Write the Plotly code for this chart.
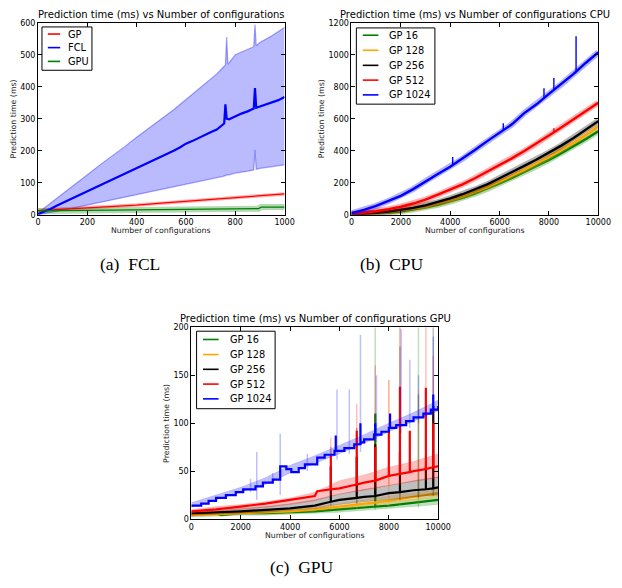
import plotly.graph_objects as go

# ---------------- Panel (a) FCL ----------------
fcl_x = [0,25,50,75,100,125,150,175,200,225,250,275,300,325,350,375,400,425,450,475,500,525,550,575,600,625,650,675,700,725,750,755,760,765,775,800,825,850,875,880,885,900,925,950,975,1000]
fcl_mean = [2,9,18,28,37,45,55,64,73,82,91,100,110,118,128,136,145,153,163,172,182,190,200,210,222,230,240,248,258,266,280,285,345,300,298,308,316,323,332,396,334,338,345,352,358,368]
fcl_band_x = [0,50,100,150,200,250,300,350,400,450,500,550,600,650,700,725,750,760,765,770,800,850,875,880,885,900,950,1000]
fcl_upper = [6,35,66,96,125,155,183,212,242,270,298,328,360,392,422,440,460,468,555,470,500,515,525,594,528,538,560,585]
fcl_lower = [0,6,14,22,30,38,46,54,62,70,78,86,95,104,112,116,120,122,125,124,130,136,140,202,142,145,150,156]
gp_a_x = [0,100,200,300,400,500,600,700,800,900,1000]
gp_a = [13,17,22,26,30,36,42,48,54,60,65]
gpu_a_x = [0,100,200,300,400,500,600,700,800,895,905,1000]
gpu_a = [12,13,14,15,16,17,18,18,19,19,24,24]
legend_a = ['GP', 'FCL', 'GPU']

# ---------------- Panel (b) CPU ----------------
cpu_x = [0,500,1000,1500,2000,2500,3000,3500,4000,4500,5000,5500,6000,6500,7000,7500,8000,8500,9000,9500,10000]
cpu_gp16 = [0,3,7,13,21,32,45,62,82,105,132,161,195,230,266,303,343,385,428,474,522]
cpu_gp128 = [1,4,9,16,25,37,50,68,90,114,142,172,208,243,280,320,362,405,450,500,552]
cpu_gp256 = [2,6,12,20,30,43,58,78,102,128,158,190,228,265,305,345,388,432,480,530,585]
cpu_gp512 = [5,12,22,35,50,70,95,125,155,190,228,268,310,352,398,445,495,545,595,648,700]
cpu_gp1024 = [10,30,55,85,118,160,210,255,300,350,405,460,515,565,635,690,755,815,880,950,1015]
# spikes on the CPU curves: x, low, high
cpu_sp512_x = [8200]
cpu_sp512_lo = [512]
cpu_sp512_hi = [540]
cpu_sp1024_x = [4100, 6150, 7800, 8200, 9100]
cpu_sp1024_lo = [310, 528, 730, 778, 890]
cpu_sp1024_hi = [360, 572, 790, 855, 1115]
legend_b = ['GP 16', 'GP 128', 'GP 256', 'GP 512', 'GP 1024']

# ---------------- Panel (c) GPU ----------------
g16_x = [0,1000,1200,1500,2000,3000,4000,5000,6000,7000,7450,7450,7450,8000,9000,10000]
g16 = [4,6,4,5,6,6,7,8,10,12,13,110,13,14,17,20]
g128_x = [0,1000,2000,3000,4000,5000,6000,7000,8000,9000,10000]
g128 = [4,5,6,7,8,10,13,16,19,23,27]
g256_x = [0,2000,4000,5000,5650,5650,5650,6000,6700,6700,6700,7000,7450,7450,7450,8000,8450,8450,8450,9000,9500,9500,9500,9800,9800,9800,10000]
g256 = [6,8,11,14,18,55,18,20,22,65,22,23,24,78,24,27,28,70,28,30,31,55,31,32,118,32,33]
g512_x = [0,1000,2000,3000,4000,5000,5100,5650,5650,5650,6000,6700,6700,6700,7000,7450,7450,7450,8000,8000,8000,8450,8450,8450,8850,8850,8850,9000,9500,9500,9500,9800,9800,9800,10000]
g512 = [8,10,13,16,20,24,29,31,66,31,32,36,92,36,38,40,75,40,45,92,45,47,138,47,49,92,49,50,52,137,52,54,100,54,55]
g1024_x = [0,400,700,1000,1400,1800,2100,2600,2900,3300,3600,3850,4050,4350,4600,5100,5400,5800,5850,5850,5850,6200,6600,6850,6850,6850,7000,7400,7450,7450,7450,7700,8000,8050,8050,8050,8300,8700,9000,9400,9700,9800,9800,9800,10000]
g1024 = [14,16,19,22,25,28,31,34,38,41,55,52,49,53,57,64,67,71,71,87,71,74,78,80,100,80,83,88,88,100,88,91,95,95,110,95,98,102,106,110,114,114,130,114,118]

band_gx = [0,1000,2000,3000,4000,5000,6000,7000,8000,9000,10000]
g16_lo = [2,3,4,4,5,6,7,9,11,13,15]
g16_hi = [6,7,8,8,9,10,12,15,18,21,25]
g128_lo = [3,4,5,6,7,8,11,13,16,19,22]
g128_hi = [6,7,8,9,10,13,16,20,24,27,31]
g256_lo = [4,5,6,7,9,11,15,18,20,23,25]
g256_hi = [8,9,11,13,16,20,26,31,35,40,44]
g512_lo = [6,8,10,12,15,19,26,30,35,39,43]
g512_hi = [10,13,15,18,22,28,40,46,54,60,68]
g1024_lo = [12,20,28,36,48,58,68,79,91,102,113]
g1024_hi = [17,25,33,43,56,66,77,88,100,111,124]

# light (band) spikes: x, low, high
sp1024_x = [2400,2650,3300,3600,4700,5900,6400,6850,7500,8500,8850,9200,9800]
sp1024_lo = [28,20,38,25,50,62,68,70,80,90,95,100,105]
sp1024_hi = [42,70,48,89,68,135,135,192,150,198,166,150,190]
sp512_x = [5650,6700,7450,8000,8450,9500,9800]
sp512_lo = [25,28,30,35,35,40,42]
sp512_hi = [85,120,160,145,200,200,170]
sp256_x = [5650,6700,8450,9200,9800]
sp256_lo = [14,16,20,22,24]
sp256_hi = [75,95,180,130,200]
sp128_x = [6700,8000,8450,9200]
sp128_lo = [10,12,14,16]
sp128_hi = [95,145,200,135]
sp16_x = [7450,9200]
sp16_lo = [10,12]
sp16_hi = [200,200]
legend_c = ['GP 16', 'GP 128', 'GP 256', 'GP 512', 'GP 1024']

W, H = 622, 588
def px(x): return x / W
def py(y): return 1 - y / H

def segs(xs, lo, hi):
    X, Y = [], []
    for x, a, b in zip(xs, lo, hi):
        X += [x, x, None]
        Y += [a, b, None]
    return X, Y

GREEN, ORANGE, BLACK, RED, BLUE = (0, 128, 0), (255, 165, 0), (0, 0, 0), (255, 0, 0), (0, 0, 255)
def rgb(c): return 'rgb(%d,%d,%d)' % c
def rgba(c, a): return 'rgba(%d,%d,%d,%s)' % (c + (a,))

fig = go.Figure()

# ---- panel a traces
fig.add_trace(go.Scatter(x=fcl_band_x, y=fcl_lower, mode='lines', line=dict(color=rgba(BLUE, 0.35), width=1.2),
                         showlegend=False, hoverinfo='skip', xaxis='x', yaxis='y'))
fig.add_trace(go.Scatter(x=fcl_band_x, y=fcl_upper, mode='lines', line=dict(color=rgba(BLUE, 0.35), width=1.2),
                         fill='tonexty', fillcolor=rgba(BLUE, 0.27), showlegend=False, hoverinfo='skip', xaxis='x', yaxis='y'))
fig.add_trace(go.Scatter(x=gp_a_x, y=gp_a, mode='lines', line=dict(color=rgba(RED, 0.3), width=3.5),
                         showlegend=False, hoverinfo='skip', xaxis='x', yaxis='y'))
fig.add_trace(go.Scatter(x=gpu_a_x, y=gpu_a, mode='lines', line=dict(color=rgba(GREEN, 0.3), width=6),
                         showlegend=False, hoverinfo='skip', xaxis='x', yaxis='y'))
fig.add_trace(go.Scatter(x=gp_a_x, y=gp_a, mode='lines', name=legend_a[0], line=dict(color=rgb(RED), width=1.3),
                         showlegend=False, xaxis='x', yaxis='y'))
fig.add_trace(go.Scatter(x=fcl_x, y=fcl_mean, mode='lines', name=legend_a[1], line=dict(color=rgb(BLUE), width=2.2),
                         showlegend=False, xaxis='x', yaxis='y'))
fig.add_trace(go.Scatter(x=gpu_a_x, y=gpu_a, mode='lines', name=legend_a[2], line=dict(color=rgb(GREEN), width=1.3),
                         showlegend=False, xaxis='x', yaxis='y'))

# ---- panel b traces
cpu_series = [
    (legend_b[0], cpu_gp16, GREEN, [], [], []),
    (legend_b[1], cpu_gp128, ORANGE, [], [], []),
    (legend_b[2], cpu_gp256, BLACK, [], [], []),
    (legend_b[3], cpu_gp512, RED, cpu_sp512_x, cpu_sp512_lo, cpu_sp512_hi),
    (legend_b[4], cpu_gp1024, BLUE, cpu_sp1024_x, cpu_sp1024_lo, cpu_sp1024_hi),
]
for name, ys, c, sx, slo, shi in cpu_series:
    fig.add_trace(go.Scatter(x=cpu_x, y=ys, mode='lines', line=dict(color=rgba(c, 0.3), width=6),
                             showlegend=False, hoverinfo='skip', xaxis='x2', yaxis='y2'))
    fig.add_trace(go.Scatter(x=cpu_x, y=ys, mode='lines', name=name, line=dict(color=rgb(c), width=2.4),
                             showlegend=False, xaxis='x2', yaxis='y2'))
    if sx:
        SX, SY = segs(sx, slo, shi)
        fig.add_trace(go.Scatter(x=SX, y=SY, mode='lines', line=dict(color=rgb(c), width=1.4),
                                 showlegend=False, hoverinfo='skip', xaxis='x2', yaxis='y2'))

# ---- panel c traces
gpu_series = [
    (legend_c[0], g16_x, g16, g16_lo, g16_hi, sp16_x, sp16_lo, sp16_hi, GREEN, 'linear'),
    (legend_c[1], g128_x, g128, g128_lo, g128_hi, sp128_x, sp128_lo, sp128_hi, ORANGE, 'linear'),
    (legend_c[2], g256_x, g256, g256_lo, g256_hi, sp256_x, sp256_lo, sp256_hi, BLACK, 'linear'),
    (legend_c[3], g512_x, g512, g512_lo, g512_hi, sp512_x, sp512_lo, sp512_hi, RED, 'linear'),
    (legend_c[4], g1024_x, g1024, g1024_lo, g1024_hi, sp1024_x, sp1024_lo, sp1024_hi, BLUE, 'hv'),
]
for name, xs, ys, lo, hi, sx, slo, shi, c, shape in gpu_series:
    light = rgba(c, 0.25)
    fig.add_trace(go.Scatter(x=band_gx, y=lo, mode='lines', line=dict(color=light, width=0.5),
                             showlegend=False, hoverinfo='skip', xaxis='x3', yaxis='y3'))
    fig.add_trace(go.Scatter(x=band_gx, y=hi, mode='lines', line=dict(color=light, width=0.5),
                             fill='tonexty', fillcolor=light, showlegend=False, hoverinfo='skip', xaxis='x3', yaxis='y3'))
    SX, SY = segs(sx, slo, shi)
    fig.add_trace(go.Scatter(x=SX, y=SY, mode='lines', line=dict(color=light, width=1.5),
                             showlegend=False, hoverinfo='skip', xaxis='x3', yaxis='y3'))
    fig.add_trace(go.Scatter(x=xs, y=ys, mode='lines', name=name, line=dict(color=rgb(c), width=2.2, shape=shape),
                             showlegend=False, xaxis='x3', yaxis='y3'))

tickfont = dict(family='DejaVu Sans', size=8, color='black')
def axis(domain, rng, dtick, anchor):
    return dict(domain=domain, range=rng, dtick=dtick, showgrid=False, zeroline=False, showline=True,
                linecolor='black', linewidth=1, mirror='ticks', ticks='inside', ticklen=4, tickcolor='black',
                tickfont=tickfont, anchor=anchor, fixedrange=True, tickformat='d')

xa = [px(36), px(289)]
xb = [px(357.7), px(611)]
xc = [px(193.3), px(446.7)]
yab = [py(214), py(19)]
yc = [py(523), py(328.3)]

ann = []
shapes = []
titlefont = dict(family='DejaVu Sans', size=10, color='black')
labfont = dict(family='DejaVu Sans', size=7.8, color='#222')
capfont = dict(family='Liberation Serif', size=17.5, color='black')
legfont = dict(family='DejaVu Sans', size=9.8, color='black')

def A(text, x, y, font, angle=0, xanchor='center'):
    ann.append(dict(text=text, x=px(x), y=py(y), xref='paper', yref='paper', showarrow=False,
                    xanchor=xanchor, yanchor='middle', font=font, textangle=angle))

# hand-drawn legend boxes (matplotlib-like compact legends)
def legend_box(x0, y0, x1, y1, names, colors, ys, lx0, lx1, tx, lw=1.6):
    shapes.append(dict(type='rect', xref='paper', yref='paper', x0=px(x0), x1=px(x1), y0=py(y1), y1=py(y0),
                       line=dict(color='black', width=1), fillcolor='white', layer='above'))
    for n, c, yy in zip(names, colors, ys):
        shapes.append(dict(type='line', xref='paper', yref='paper', x0=px(lx0), x1=px(lx1), y0=py(yy), y1=py(yy),
                           line=dict(color=rgb(c), width=lw), layer='above'))
        A(n, tx, yy, legfont, xanchor='left')

legend_box(40, 23.3, 91.3, 67.3, legend_a, [RED, BLUE, GREEN], [30.5, 44.3, 58.3], 46, 58.7, 65)
legend_box(362.7, 24.3, 443.3, 101.7, legend_b, [GREEN, ORANGE, BLACK, RED, BLUE],
           [31.7, 47, 62.3, 77.3, 92.3], 369.3, 385.3, 394.5)
legend_box(198.7, 332.3, 279.3, 411, legend_c, [GREEN, ORANGE, BLACK, RED, BLUE],
           [340.7, 356, 371, 386, 401], 205.3, 221.3, 230.5)

A('Prediction time (ms) vs Number of configurations', 162.5, 11, titlefont)
A('Prediction time (ms) vs Number of configurations CPU', 484, 11, titlefont)
A('Prediction time (ms) vs Number of configurations GPU', 321, 319, titlefont)
A('Number of configurations', 162.5, 230, labfont)
A('Number of configurations', 484, 230, labfont)
A('Number of configurations', 320, 540, labfont)
A('Prediction time (ms)', 11, 116.5, labfont, -90)
A('Prediction time (ms)', 327, 116.5, labfont, -90)
A('Prediction time (ms)', 167, 425.7, labfont, -90)
A('(a)\u00a0 FCL', 130, 264, capfont)
A('(b)\u00a0 CPU', 399, 264, capfont)
A('(c)\u00a0 GPU', 307, 572, capfont)

fig.update_layout(
    width=W, height=H, autosize=False,
    margin=dict(l=0, r=0, t=0, b=0),
    paper_bgcolor='white', plot_bgcolor='white',
    xaxis=axis(xa, [0, 1000], 200, 'y'),
    yaxis=axis(yab, [0, 600], 100, 'x'),
    xaxis2=axis(xb, [0, 10000], 2000, 'y2'),
    yaxis2=axis(yab, [0, 1200], 200, 'x2'),
    xaxis3=axis(xc, [0, 10000], 2000, 'y3'),
    yaxis3=axis(yc, [0, 200], 50, 'x3'),
    annotations=ann,
    shapes=shapes,
    showlegend=False,
)

fig.write_html('out.html', config={'displayModeBar': False},
               post_script="document.body.style.margin='0px';document.body.style.overflow='hidden';")
